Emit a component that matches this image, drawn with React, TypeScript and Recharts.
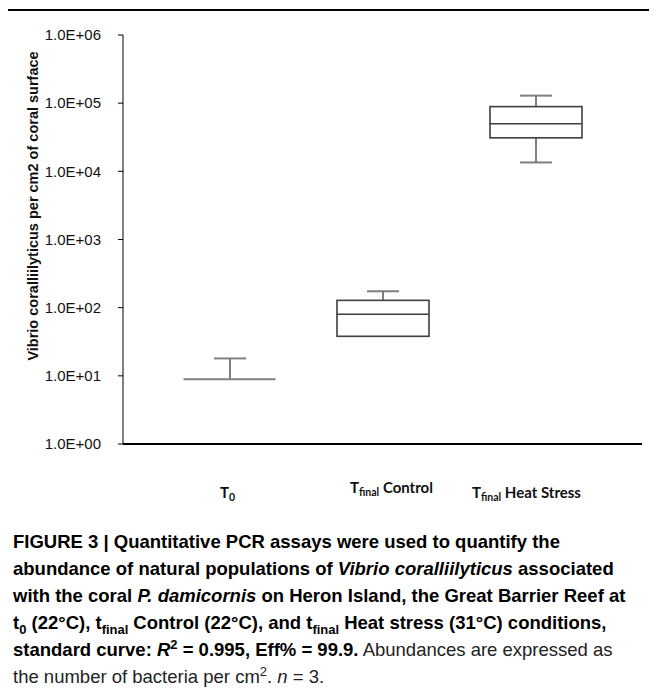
import React from 'react';
import { ComposedChart, Bar, Scatter, XAxis, YAxis } from 'recharts';

const categories = ['T0', 'Tfinal Control', 'Tfinal Heat Stress'];
const q1Values = [8.9, 38, 31000];
const medianValues = [8.9, 80, 50000];
const q3Values = [8.9, 128, 89000];
const maxValues = [18, 174, 129000];
const minValues = [8.9, 38, 13500];
const yTicks = [1, 10, 100, 1000, 10000, 100000, 1000000];

const data = categories.map((cat, i) => ({
  cat,
  box: q3Values[i] > q1Values[i] ? [q1Values[i], q3Values[i]] : null,
  upper: maxValues[i] > q3Values[i] ? [q3Values[i], maxValues[i]] : null,
  lower: minValues[i] < q1Values[i] ? [minValues[i], q1Values[i]] : null,
  median: medianValues[i],
  degenerate: q3Values[i] <= q1Values[i],
}));

const BOX_W = 92;
const CAP_W = 32;
const BOX_STROKE = '#3f3f3f';
const WHISKER = '#7f7f7f';

const BoxShape = (p: any) => {
  if (p.height == null || isNaN(p.y)) return null;
  return <rect x={p.x} y={p.y} width={p.width} height={p.height} fill="#fff" stroke={BOX_STROKE} strokeWidth={1.6} />;
};
const UpperShape = (p: any) => {
  if (p.height == null || isNaN(p.y)) return null;
  const cx = p.x + p.width / 2;
  return (
    <g stroke={WHISKER} strokeWidth={2}>
      <line x1={cx} x2={cx} y1={p.y} y2={p.y + p.height} />
      <line x1={p.x} x2={p.x + p.width} y1={p.y} y2={p.y} />
    </g>
  );
};
const LowerShape = (p: any) => {
  if (p.height == null || isNaN(p.y)) return null;
  const cx = p.x + p.width / 2;
  return (
    <g stroke={WHISKER} strokeWidth={2}>
      <line x1={cx} x2={cx} y1={p.y} y2={p.y + p.height} />
      <line x1={p.x} x2={p.x + p.width} y1={p.y + p.height} y2={p.y + p.height} />
    </g>
  );
};
const MedianShape = (p: any) => {
  const deg = p.payload && p.payload.degenerate;
  return (
    <line x1={p.cx - BOX_W / 2} x2={p.cx + BOX_W / 2} y1={p.cy} y2={p.cy}
      stroke={deg ? WHISKER : BOX_STROKE} strokeWidth={deg ? 2 : 1.6} />
  );
};

const tickShift = [[-2, 0], [9, -5], [-9, 0]];
const XTick = (p: any) => {
  const i = p.index;
  const [dx, dy] = tickShift[i] || [0, 0];
  const label = categories[i];
  const rest = label === 'T0' ? '' : label.replace('Tfinal', '');
  const sub = label === 'T0' ? '0' : 'final';
  return (
    <text x={p.x + dx} y={p.y + 46 + dy} textAnchor="middle"
      fontFamily="Lato, 'Open Sans', sans-serif" fontWeight={700} fontSize={15} fill="#111">
      <tspan>T</tspan>
      <tspan fontSize={10.5} dy={3}>{sub}</tspan>
      {rest ? <tspan dy={-3}>{rest}</tspan> : null}
    </text>
  );
};

const YLabel = (p: any) => {
  const x = 33;
  const y = 206;
  return (
    <text x={x} y={y} transform={`rotate(-90, ${x}, ${y})`} textAnchor="middle" dominantBaseline="central"
      fontFamily="'Liberation Sans', Arial, sans-serif" fontWeight={700} fontSize={14.5} fill="#111">
      Vibrio coralliilyticus per cm2 of coral surface
    </text>
  );
};

const fmt = (v: number) => '1.0E+' + String(Math.round(Math.log10(v))).padStart(2, '0');

const captionBold: React.CSSProperties = { fontWeight: 700, color: '#000' };
const subSup: React.CSSProperties = { fontSize: '0.7em', lineHeight: 0 };

export default function App() {
  return (
    <div style={{ position: 'relative', width: 657, height: 699, margin: -8, background: '#fff', overflow: 'hidden' }}>
      <div style={{ position: 'absolute', left: 2, top: 9, right: 0, bottom: 0, borderLeft: '2.5px solid #000', borderTop: '2.5px solid #000' }} />
      <div style={{ position: 'absolute', left: 0, top: 0 }}>
        <ComposedChart width={657} height={520} data={data} margin={{ top: 35, right: 15, left: 0, bottom: 16 }}>
          <XAxis xAxisId="box" dataKey="cat" type="category" padding={{ left: 30, right: 30 }}
            axisLine={{ stroke: '#000', strokeWidth: 2 }} tickLine={false} tick={<XTick />} height={60} interval={0} />
          <XAxis xAxisId="up" dataKey="cat" type="category" padding={{ left: 30, right: 30 }} hide />
          <XAxis xAxisId="low" dataKey="cat" type="category" padding={{ left: 30, right: 30 }} hide />
          <YAxis type="number" scale="log" domain={[1, 1000000]} ticks={yTicks} allowDataOverflow
            tickFormatter={fmt} width={123} tickSize={5} tickMargin={17}
            axisLine={{ stroke: '#000', strokeWidth: 1 }} tickLine={{ stroke: '#000' }}
            tick={{ fontFamily: "'Liberation Sans', Arial, sans-serif", fontSize: 15, fill: '#111' }}
            label={<YLabel />} />
          <Bar xAxisId="up" dataKey="upper" barSize={CAP_W} shape={<UpperShape />} isAnimationActive={false} />
          <Bar xAxisId="low" dataKey="lower" barSize={CAP_W} shape={<LowerShape />} isAnimationActive={false} />
          <Bar xAxisId="box" dataKey="box" barSize={BOX_W} shape={<BoxShape />} isAnimationActive={false} />
          <Scatter xAxisId="box" dataKey="median" shape={<MedianShape />} isAnimationActive={false} />
        </ComposedChart>
      </div>
      <div style={{ position: 'absolute', left: 13, top: 528, whiteSpace: 'nowrap', fontFamily: "'Liberation Sans Narrow', 'Liberation Sans', Arial, sans-serif", fontSize: 18.5, lineHeight: '27px', color: '#222' }}>
        <span style={captionBold}>FIGURE 3 | Quantitative PCR assays were used to quantify the</span><br />
        <span style={captionBold}>abundance of natural populations of <i>Vibrio coralliilyticus</i> associated</span><br />
        <span style={captionBold}>with the coral <i>P. damicornis</i> on Heron Island, the Great Barrier Reef at</span><br />
        <span style={captionBold}>t<sub style={subSup}>0</sub> (22°C), t<sub style={subSup}>final</sub> Control (22°C), and t<sub style={subSup}>final</sub> Heat stress (31°C) conditions,</span><br />
        <span style={captionBold}>standard curve: <i>R</i><sup style={subSup}>2</sup> = 0.995, Eff% = 99.9.</span> Abundances are expressed as<br />
        the number of bacteria per cm<sup style={subSup}>2</sup>. <i>n</i> = 3.
      </div>
    </div>
  );
}
